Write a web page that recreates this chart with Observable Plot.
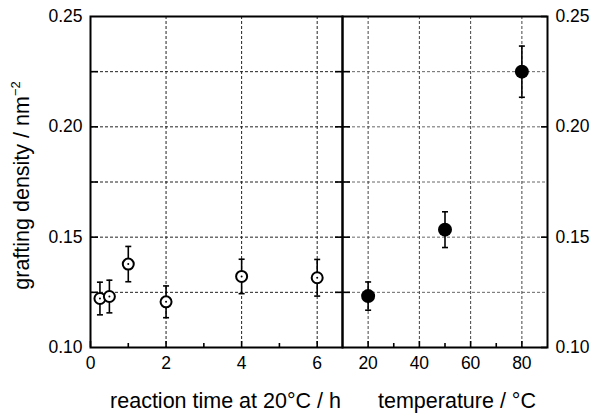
<!DOCTYPE html>
<html>
<head>
<meta charset="utf-8">
<script src="https://cdn.jsdelivr.net/npm/d3@7"></script>
<script src="https://cdn.jsdelivr.net/npm/@observablehq/plot@0.6"></script>
<style>
  html, body { margin: 0; padding: 0; background: white; }
  #chart { position: relative; width: 595px; height: 415px; background: white; }
  #chart svg { position: absolute; top: 0; overflow: visible; }
</style>
</head>
<body>
<div id="chart"></div>
<script>
// ---- data ----
const timeH = [0.25, 0.5, 1, 2, 4, 6];
const timeDensity = [0.1222, 0.1231, 0.1378, 0.1207, 0.1322, 0.1316];
const timeErr = [0.0074, 0.0074, 0.0080, 0.0072, 0.0078, 0.0083];

const tempC = [20, 50, 80];
const tempDensity = [0.1233, 0.1534, 0.2250];
const tempErr = [0.0064, 0.0081, 0.0116];

const yTicks = [0.10, 0.15, 0.20, 0.25];
const yTickLabels = ["0.10", "0.15", "0.20", "0.25"];
const yGrid = [0.125, 0.15, 0.175, 0.20, 0.225];
const yAllTicks = [0.125, 0.15, 0.175, 0.20, 0.225];

const timeTicks = [0, 2, 4, 6];
const timeMinor = [1, 3, 5];
const timeGrid = [2, 4, 6];
const tempTicks = [20, 40, 60, 80];
const tempMinor = [30, 50, 70];

const timeTitle = "reaction time at 20°C / h";
const tempTitle = "temperature / °C";
const yTitle = "grafting density / nm";
const yTitleSup = "−2";

// ---- layout ----
const H = 415, mTop = 16, mBottom = 68;
const innerH = H - mTop - mBottom;
const leftW = 342, leftML = 90;
const rightW = 253, rightMR = 48;
const innerLW = leftW - leftML;
const innerRW = rightW - rightMR;
const font = "Arial, 'Liberation Sans', Helvetica, sans-serif";
const yDomain = [0.10, 0.25];

const capSymbol = {
  draw(ctx, size) {
    const w = Math.sqrt(size / Math.PI);
    ctx.moveTo(-w, 0);
    ctx.lineTo(w, 0);
  }
};

const timeData = timeH.map((t, i) => ({x: t, y: timeDensity[i], lo: timeDensity[i] - timeErr[i], hi: timeDensity[i] + timeErr[i]}));
const tempData = tempC.map((t, i) => ({x: t, y: tempDensity[i], lo: tempDensity[i] - tempErr[i], hi: tempDensity[i] + tempErr[i]}));

const common = {
  height: H,
  marginTop: mTop,
  marginBottom: mBottom,
  style: {fontFamily: font, fontSize: "17.5px", background: "transparent", overflow: "visible", color: "black"},
  y: {domain: yDomain, axis: null}
};

// ---- left panel ----
const left = Plot.plot({
  ...common,
  width: leftW,
  marginLeft: leftML,
  marginRight: 0,
  x: {domain: [0, 6.67], axis: null},
  marks: [
    Plot.ruleY(yGrid, {stroke: "#222", strokeWidth: 1, strokeDasharray: "3,2"}),
    Plot.ruleX(timeGrid, {stroke: "#222", strokeWidth: 1, strokeDasharray: "3,2"}),
    // inward ticks
    Plot.tickY(yAllTicks, {y: d => d, insetRight: innerLW - 8, strokeWidth: 1.6}),
    Plot.tickY(yAllTicks, {y: d => d, insetLeft: innerLW - 7, strokeWidth: 1.6}),
    Plot.tickX(timeTicks, {x: d => d, insetTop: innerH - 6, strokeWidth: 1.6}),
    Plot.tickX(timeMinor, {x: d => d, insetTop: innerH - 4, strokeWidth: 1.6}),
    Plot.frame({stroke: "black", strokeWidth: 2}),
    // tick labels
    Plot.text(yTicks, {y: d => d, text: (d, i) => yTickLabels[i], frameAnchor: "left", textAnchor: "end", dx: -8, fontSize: 17.5}),
    Plot.text(timeTicks, {x: d => d, text: d => String(d), frameAnchor: "bottom", lineAnchor: "top", dy: 9, fontSize: 17.5}),
    // axis titles
    Plot.text([timeTitle], {frameAnchor: "bottom", lineAnchor: "bottom", dy: 60, dx: 9, fontSize: 21.5}),
    // error bars
    Plot.ruleX(timeData, {x: "x", y1: "lo", y2: "hi", stroke: "black", strokeWidth: 1.6}),
    Plot.dot(timeData, {x: "x", y: "lo", symbol: capSymbol, r: 3, stroke: "black", strokeWidth: 1.6}),
    Plot.dot(timeData, {x: "x", y: "hi", symbol: capSymbol, r: 3, stroke: "black", strokeWidth: 1.6}),
    // open circles with centre dot
    Plot.dot(timeData, {x: "x", y: "y", r: 5.5, stroke: "black", strokeWidth: 2, fill: "white"}),
    Plot.dot(timeData, {x: "x", y: "y", r: 1, fill: "black", stroke: null})
  ]
});

// ---- right panel ----
const right = Plot.plot({
  ...common,
  width: rightW,
  marginLeft: 0,
  marginRight: rightMR,
  x: {domain: [10, 90], axis: null},
  marks: [
    Plot.ruleY(yGrid, {stroke: "#666", strokeWidth: 1, strokeDasharray: "3,2"}),
    Plot.ruleX(tempTicks, {stroke: "#444", strokeWidth: 1, strokeDasharray: "3,2"}),
    Plot.tickY(yAllTicks, {y: d => d, insetRight: innerRW - 8, strokeWidth: 1.6}),
    Plot.tickY(yTicks, {y: d => d, insetLeft: innerRW - 6, strokeWidth: 1.6}),
    Plot.tickX(tempTicks, {x: d => d, insetTop: innerH - 6, strokeWidth: 1.6}),
    Plot.tickX(tempMinor, {x: d => d, insetTop: innerH - 4, strokeWidth: 1.6}),
    Plot.frame({stroke: "black", strokeWidth: 2}),
    Plot.text(yTicks, {y: d => d, text: (d, i) => yTickLabels[i], frameAnchor: "right", textAnchor: "start", dx: 8, fontSize: 17.5}),
    Plot.text(tempTicks, {x: d => d, text: d => String(d), frameAnchor: "bottom", lineAnchor: "top", dy: 9, fontSize: 17.5}),
    Plot.text([tempTitle], {frameAnchor: "bottom", lineAnchor: "bottom", dy: 60, dx: 12, fontSize: 21.5}),
    Plot.ruleX(tempData, {x: "x", y1: "lo", y2: "hi", stroke: "black", strokeWidth: 1.6}),
    Plot.dot(tempData, {x: "x", y: "lo", symbol: capSymbol, r: 3, stroke: "black", strokeWidth: 1.6}),
    Plot.dot(tempData, {x: "x", y: "hi", symbol: capSymbol, r: 3, stroke: "black", strokeWidth: 1.6}),
    Plot.dot(tempData, {x: "x", y: "y", r: 7, fill: "black", stroke: null})
  ]
});

const chart = document.getElementById("chart");
left.style.left = "0px";
right.style.left = leftW + "px";
chart.appendChild(left);
chart.appendChild(right);

// y-axis title with superscript, rotated, on the left panel
const svg = d3.select(left);
const cy = mTop + innerH / 2 + 4;
const t = svg.append("text")
  .attr("transform", `translate(29,${cy}) rotate(-90)`)
  .attr("text-anchor", "middle")
  .attr("font-family", font)
  .attr("font-size", 21.5)
  .attr("fill", "black");
t.append("tspan").text(yTitle);
t.append("tspan").attr("font-size", 13).attr("dy", -9).text(yTitleSup);
</script>
</body>
</html>
